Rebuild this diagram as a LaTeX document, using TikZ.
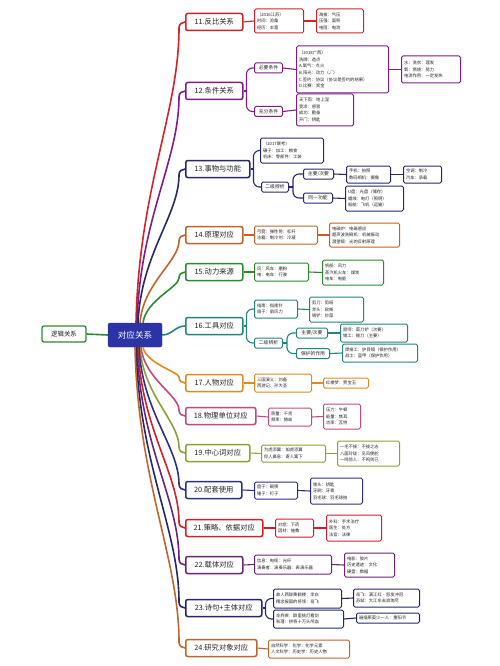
\documentclass[tikz,border=0pt]{standalone}
\usepackage{fontspec}
\setmainfont{Noto Sans CJK SC}
\usetikzlibrary{calc}
\definecolor{c11}{HTML}{D42229}
\definecolor{c12}{HTML}{7D1E86}
\definecolor{c13}{HTML}{27296B}
\definecolor{c14}{HTML}{C0622A}
\definecolor{c15}{HTML}{2D8A2F}
\definecolor{c16}{HTML}{21857C}
\definecolor{c17}{HTML}{E08A1F}
\definecolor{c18}{HTML}{C24A7E}
\definecolor{c19}{HTML}{8CA135}
\definecolor{c20}{HTML}{2E3088}
\definecolor{c21}{HTML}{D0202A}
\definecolor{c22}{HTML}{6A2574}
\definecolor{c23}{HTML}{24286A}
\definecolor{c24}{HTML}{C0652E}
\definecolor{croot}{HTML}{2B33A6}
\definecolor{clog}{HTML}{2D8A2F}
\definecolor{txt}{HTML}{222222}
\begin{document}
\begin{tikzpicture}[x=1pt,y=-1pt,
  topic/.style={draw=#1, line width=1.5pt, rounded corners=2pt, fill=white, text=txt,
    font=\fontsize{7.3}{9}\selectfont, inner sep=0pt, anchor=west, minimum height=17pt},
  det/.style={draw=#1, line width=1pt, rounded corners=1.5pt, fill=white, text=txt,
    font=\fontsize{4.3}{6.6}\selectfont, align=left, inner xsep=2.5pt, inner ysep=1pt, anchor=west},
  lab/.style={draw=#1, line width=1pt, rounded corners=1.5pt, fill=white, text=txt,
    font=\fontsize{4.8}{6}\selectfont, inner sep=0pt, anchor=west, minimum height=10pt},
  rootline/.style={line width=1.6pt},
  sub/.style={line width=1.1pt},
  fork/.style={line width=1.1pt, rounded corners=6pt}
  ]
\useasboundingbox (0,0) rectangle (500,666);

% ---------- root and logic ----------
\node[fill=croot, draw=croot, rounded corners=2pt, text=white, font=\fontsize{8.6}{10}\selectfont,
  minimum width=54pt, minimum height=24pt, inner sep=0pt] (root) at (135,335) {对应关系};
\node[draw=clog, line width=1.3pt, rounded corners=2pt, fill=white, text=txt, font=\fontsize{6.4}{8}\selectfont,
  minimum width=44pt, minimum height=16pt, inner sep=0pt] (logic) at (64,334) {逻辑关系};

% ---------- topics ----------
\node[topic=c11, minimum width=57pt] (t11) at (185,22) {11.反比关系};
\node[topic=c12, minimum width=57pt] (t12) at (185,91) {12.条件关系};
\node[topic=c13, minimum width=64pt] (t13) at (185,169) {13.事物与功能};
\node[topic=c14, minimum width=57pt] (t14) at (185,235) {14.原理对应};
\node[topic=c15, minimum width=57pt] (t15) at (185,272) {15.动力来源};
\node[topic=c16, minimum width=57pt] (t16) at (185,326) {16.工具对应};
\node[topic=c17, minimum width=57pt] (t17) at (185,383) {17.人物对应};
\node[topic=c18, minimum width=70pt] (t18) at (185,416) {18.物理单位对应};
\node[topic=c19, minimum width=64pt] (t19) at (185,453) {19.中心词对应};
\node[topic=c20, minimum width=56pt] (t20) at (185,490) {20.配套使用};
\node[topic=c21, minimum width=77pt] (t21) at (185,528) {21.策略、依据对应};
\node[topic=c22, minimum width=57pt] (t22) at (185,565) {22.载体对应};
\node[topic=c23, minimum width=76pt] (t23) at (185,608) {23.诗句+主体对应};
\node[topic=c24, minimum width=71pt] (t24) at (185,648) {24.研究对象对应};

% ---------- root connectors ----------
\draw[rootline, clog] (root.west) -- (logic.east);
\foreach \t/\col/\dx in {t11/c11/1, t12/c12/2, t13/c13/3, t14/c14/5, t15/c15/8}{
  \draw[rootline, \col] let \p1=($(root.north)+(\dx,0)$), \p2=(\t.west), \n1={\y2-\y1}, \n2={\n1/abs(\n1)} in
    (\p1) .. controls (\x1+3, \y1+0.45*\n1) and (\x2-6, \y2-0.3*\n1) .. (\x2-6, \y2-6*\n2)
    .. controls (\x2-6, \y2-2*\n2) and (\x2-3, \y2) .. (\p2);
}
\foreach \t/\col/\dx in {t17/c17/8, t18/c18/6, t19/c19/5, t20/c20/4, t21/c21/3, t22/c22/2, t23/c23/1, t24/c24/0}{
  \draw[rootline, \col] let \p1=($(root.south)+(\dx,0)$), \p2=(\t.west), \n1={\y2-\y1}, \n2={\n1/abs(\n1)} in
    (\p1) .. controls (\x1+3, \y1+0.45*\n1) and (\x2-6, \y2-0.3*\n1) .. (\x2-6, \y2-6*\n2)
    .. controls (\x2-6, \y2-2*\n2) and (\x2-3, \y2) .. (\p2);
}
\draw[rootline, c16] (root.east) to[out=0,in=180] (t16.west);

% ---------- 11 ----------
\node[det=c11, text width=44pt, minimum height=24pt] (b11a) at (254,21) {（2016江苏）\\时间：沧桑\\经历：丰富};
\node[det=c11, text width=42pt, minimum height=24pt] (b11b) at (316,21) {海拔：气压\\压强：面积\\电阻：电流};
\draw[sub, c11] (t11.east) -- (b11a.west);
\draw[sub, c11] (b11a.east) -- (b11b.west);

% ---------- 12 ----------
\node[lab=c12, minimum width=28pt] (l12a) at (254,68) {必要条件};
\node[lab=c12, minimum width=28pt] (l12b) at (254,111.5) {充分条件};
\node[det=c12, text width=87pt, minimum height=47pt] (b12a) at (296,69.5) {（2018广西）\\洗牌：造点\\A.氧气：点火\\B.阳光：动力（√）\\C.签约：协议（协议是签约的结果）\\D.比赛：奖金};
\node[det=c12, text width=54pt, minimum height=27pt] (b12b) at (401,69.5) {水：洗衣：理发\\氧：燃烧：努力\\电流作用：一定发热};
\node[det=c12, text width=52pt, minimum height=32pt] (b12c) at (296,110) {天下雨：地上湿\\受凉：感冒\\成功：勤奋\\开门：钥匙};
\draw[sub, c12] (t12.east) -- ++(3,0) coordinate (j12);
\draw[fork, c12] (j12) |- (l12a.west);
\draw[fork, c12] (j12) |- (l12b.west);
\draw[sub, c12] (l12a.east) -- (b12a.west);
\draw[sub, c12] (b12a.east) -- (b12b.west);
\draw[sub, c12] (l12b.east) -- (b12c.west);

% ---------- 13 ----------
\node[det=c13, text width=58pt, minimum height=25pt] (b13a) at (260,150.5) {（2017联考）\\碾子：加工：粮食\\机床：零部件：工装};
\node[lab=c13, minimum width=27pt] (l13) at (261,187) {二级辨析};
\node[lab=c13, minimum width=30pt] (l13a) at (303,174) {主要/次要};
\node[lab=c13, minimum width=29pt] (l13b) at (303,198) {同一功能};
\node[det=c13, text width=39pt, minimum height=17pt] (b13b) at (346,174.5) {手机：拍照\\数码相机：摄像};
\node[det=c13, text width=33pt, minimum height=17pt] (b13c) at (403,174.5) {空调：制冷\\汽车：承载};
\node[det=c13, text width=53pt, minimum height=25pt] (b13d) at (345,198.5) {U盘：光盘（储存）\\蜡烛：电灯（照明）\\船舶：飞机（运输）};
\draw[sub, c13] (t13.east) -- ++(3,0) coordinate (j13);
\draw[fork, c13] (j13) |- (b13a.west);
\draw[fork, c13] (j13) |- (l13.west);
\draw[sub, c13] (l13.east) -- ++(4,0) coordinate (k13);
\draw[fork, c13] (k13) |- (l13a.west);
\draw[fork, c13] (k13) |- (l13b.west);
\draw[sub, c13] (l13a.east) -- (b13b.west);
\draw[sub, c13] (b13b.east) -- (b13c.west);
\draw[sub, c13] (l13b.east) -- (b13d.west);

% ---------- 14 ----------
\node[det=c14, text width=58pt, minimum height=18pt] (b14a) at (254,235) {弓箭：弹性势：杠杆\\冰箱：制冷剂：冷凝};
\node[det=c14, text width=65pt, minimum height=24pt] (b14b) at (329,235) {电磁炉：电磁感应\\超声波洗碗机：机械振动\\潜望镜：光的反射原理};
\draw[sub, c14] (t14.east) -- (b14a.west);
\draw[sub, c14] (b14a.east) -- (b14b.west);

% ---------- 15 ----------
\node[det=c15, text width=49pt, minimum height=18pt] (b15a) at (254,272) {风：风车：磨粉\\电：电车：行驶};
\node[det=c15, text width=56pt, minimum height=25pt] (b15b) at (322,272.5) {帆船：风力\\蒸汽机火车：煤炭\\电车：电能};
\draw[sub, c15] (t15.east) -- (b15a.west);
\draw[sub, c15] (b15a.east) -- (b15b.west);

% ---------- 16 ----------
\node[det=c16, text width=38pt, minimum height=18pt] (b16a) at (254,309) {指南：指南针\\扇子：扇风力};
\node[det=c16, text width=49pt, minimum height=25pt] (b16b) at (309,309.5) {剪刀：剪纸\\斧头：砍柴\\锅铲：炒菜};
\node[lab=c16, minimum width=28pt] (l16) at (254,343) {二级辨析};
\node[lab=c16, minimum width=31pt] (l16a) at (296,333) {主要/次要};
\node[lab=c16, minimum width=33pt] (l16b) at (296,353.5) {保护的作用};
\node[det=c16, text width=62pt, minimum height=18pt] (b16c) at (340,333) {厨师：菜刀铲（次要）\\钳工：锉刀（主要）};
\node[det=c16, text width=70pt, minimum height=18pt] (b16d) at (342,353) {焊接工：护目镜（保护作用）\\战士：盔甲（保护作用）};
\draw[sub, c16] (t16.east) -- ++(3,0) coordinate (j16);
\draw[fork, c16] (j16) |- (b16a.west);
\draw[fork, c16] (j16) |- (l16.west);
\draw[sub, c16] (b16a.east) -- (b16b.west);
\draw[sub, c16] (l16.east) -- ++(4,0) coordinate (k16);
\draw[fork, c16] (k16) |- (l16a.west);
\draw[fork, c16] (k16) |- (l16b.west);
\draw[sub, c16] (l16a.east) -- (b16c.west);
\draw[sub, c16] (l16b.east) -- (b16d.west);

% ---------- 17 ----------
\node[det=c17, text width=52pt, minimum height=18pt] (b17a) at (254,383) {三国演义：刘备\\西游记：孙大圣};
\node[det=c17, text width=40pt, minimum height=10pt] (b17b) at (323,383) {红楼梦：贾宝玉};
\draw[sub, c17] (t17.east) -- (b17a.west);
\draw[sub, c17] (b17a.east) -- (b17b.west);

% ---------- 18 ----------
\node[det=c18, text width=38pt, minimum height=18pt] (b18a) at (268,417) {质量：千克\\频率：赫兹};
\node[det=c18, text width=32pt, minimum height=25pt] (b18b) at (323,416.5) {压力：牛顿\\能量：焦耳\\功率：瓦特};
\draw[sub, c18] (t18.east) -- (b18a.west);
\draw[sub, c18] (b18a.east) -- (b18b.west);

% ---------- 19 ----------
\node[det=c19, text width=59pt, minimum height=17pt] (b19a) at (261,453.5) {为虎添翼：如虎添翼\\仰人鼻息：寄人篱下};
\node[det=c19, text width=57pt, minimum height=25pt] (b19b) at (337,453.5) {一毛不拔：不拔之志\\八面玲珑：见风使舵\\一鸣惊人：不鸣则已};
\draw[sub, c19] (t19.east) -- (b19a.west);
\draw[sub, c19] (b19a.east) -- (b19b.west);

% ---------- 20 ----------
\node[det=c20, text width=38pt, minimum height=17pt] (b20a) at (254,490.5) {盘子：碗筷\\锤子：钉子};
\node[det=c20, text width=47pt, minimum height=26pt] (b20b) at (310,491) {锁头：钥匙\\牙刷：牙膏\\羽毛球：羽毛球拍};
\draw[sub, c20] (t20.east) -- (b20a.west);
\draw[sub, c20] (b20a.east) -- (b20b.west);

% ---------- 21 ----------
\node[det=c21, text width=33pt, minimum height=18pt] (b21a) at (275,528) {对症：下药\\因材：施教};
\node[det=c21, text width=50pt, minimum height=26pt] (b21b) at (326,528) {外科：手术治疗\\医生：处方\\法官：法律};
\draw[sub, c21] (t21.east) -- (b21a.west);
\draw[sub, c21] (b21a.east) -- (b21b.west);

% ---------- 22 ----------
\node[det=c22, text width=72pt, minimum height=19pt] (b22a) at (254,564.5) {信息：电缆：光纤\\演奏者：演奏乐器：表演乐器};
\node[det=c22, text width=45pt, minimum height=24pt] (b22b) at (344,565) {电影：胶片\\历史遗迹：文化\\硬盘：数据};
\draw[sub, c22] (t22.east) -- (b22a.west);
\draw[sub, c22] (b22a.east) -- (b22b.west);

% ---------- 23 ----------
\node[det=c23, text width=63pt, minimum height=19pt] (b23a) at (273,598.5) {故人西辞黄鹤楼：李白\\精忠报国的将领：岳飞};
\node[det=c23, text width=61pt, minimum height=18pt] (b23b) at (353,598) {岳飞：满江红·怒发冲冠\\苏轼：大江东去浪淘尽};
\node[det=c23, text width=65pt, minimum height=18pt] (b23c) at (273,619) {辛弃疾：醉里挑灯看剑\\秋瑾：拼将十万头颅血};
\node[det=c23, text width=58pt, minimum height=10pt] (b23d) at (356,618) {遍插茱萸少一人：重阳节};
\draw[sub, c23] (t23.east) -- ++(3,0) coordinate (j23);
\draw[fork, c23] (j23) |- (b23a.west);
\draw[fork, c23] (j23) |- (b23c.west);
\draw[sub, c23] (b23a.east) -- (b23b.west);
\draw[sub, c23] (b23c.east) -- (b23d.west);

% ---------- 24 ----------
\node[det=c24, text width=76pt, minimum height=18pt] (b24) at (268,649) {自然科学：化学：化学元素\\人文科学：历史学：历史人物};
\draw[sub, c24] (t24.east) -- (b24.west);
\end{tikzpicture}
\end{document}
